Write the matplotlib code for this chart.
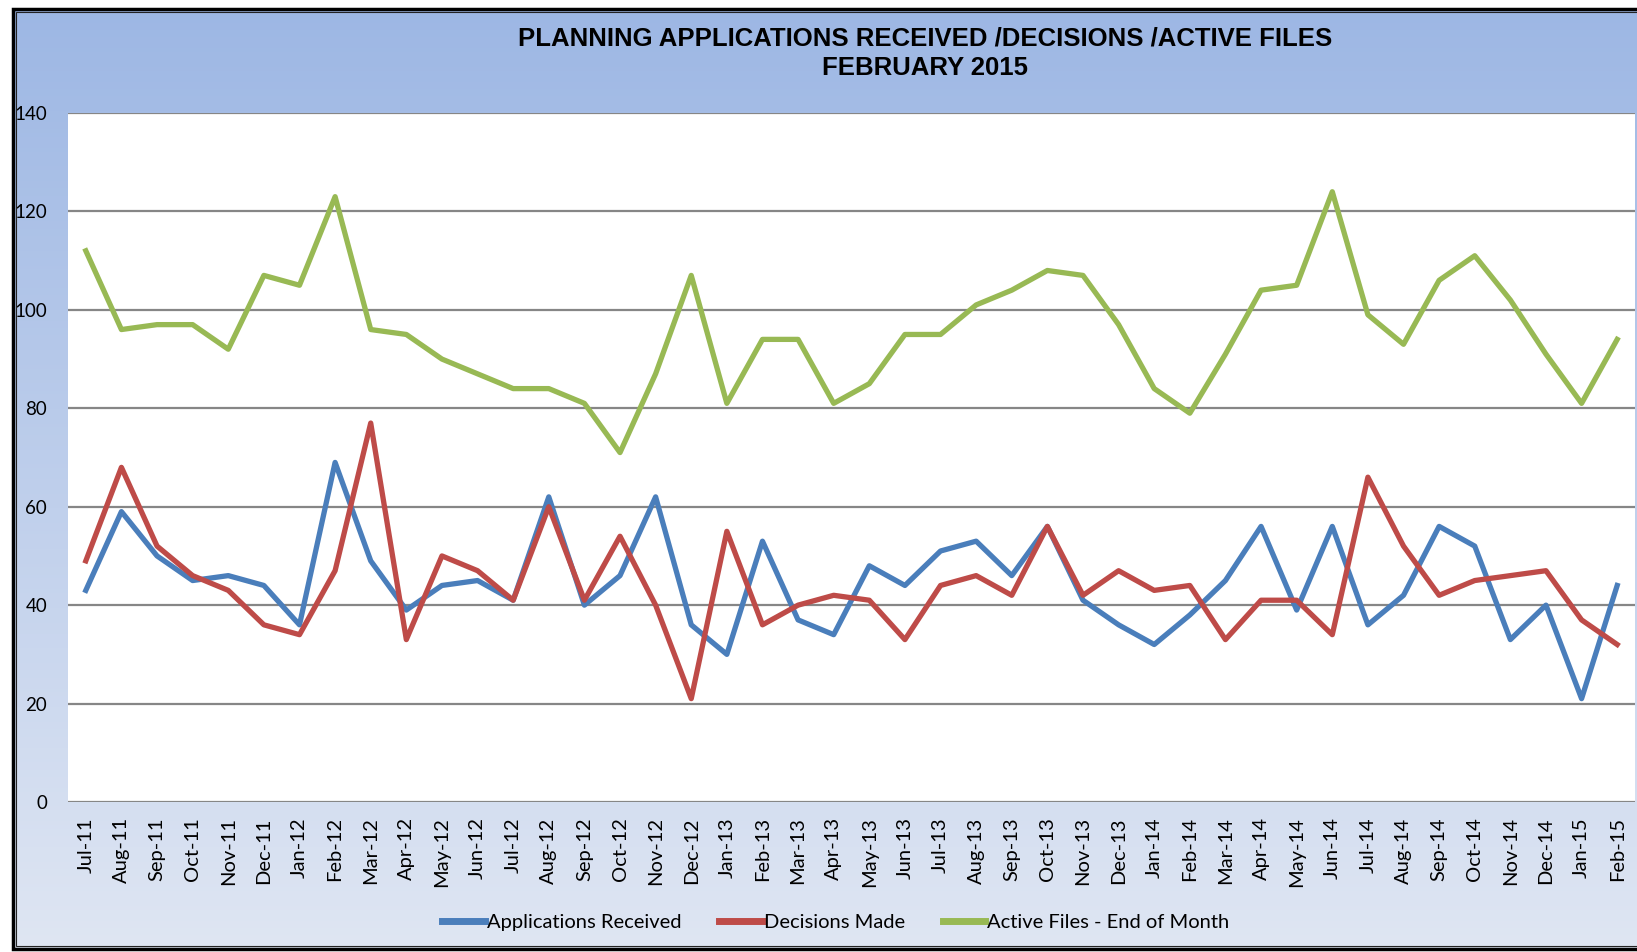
import numpy as np
import matplotlib
matplotlib.use("Agg")
import matplotlib.pyplot as plt
from matplotlib.lines import Line2D

months = ["Jul-11", "Aug-11", "Sep-11", "Oct-11", "Nov-11", "Dec-11",
          "Jan-12", "Feb-12", "Mar-12", "Apr-12", "May-12", "Jun-12",
          "Jul-12", "Aug-12", "Sep-12", "Oct-12", "Nov-12", "Dec-12",
          "Jan-13", "Feb-13", "Mar-13", "Apr-13", "May-13", "Jun-13",
          "Jul-13", "Aug-13", "Sep-13", "Oct-13", "Nov-13", "Dec-13",
          "Jan-14", "Feb-14", "Mar-14", "Apr-14", "May-14", "Jun-14",
          "Jul-14", "Aug-14", "Sep-14", "Oct-14", "Nov-14", "Dec-14",
          "Jan-15", "Feb-15"]

received = [43, 59, 50, 45, 46, 44, 36, 69, 49, 39, 44, 45, 41, 62, 40, 46,
            62, 36, 30, 53, 37, 34, 48, 44, 51, 53, 46, 56, 41, 36, 32, 38,
            45, 56, 39, 56, 36, 42, 56, 52, 33, 40, 21, 44]

decisions = [49, 68, 52, 46, 43, 36, 34, 47, 77, 33, 50, 47, 41, 60, 41, 54,
             40, 21, 55, 36, 40, 42, 41, 33, 44, 46, 42, 56, 42, 47, 43, 44,
             33, 41, 41, 34, 66, 52, 42, 45, 46, 47, 37, 32]

active = [112, 96, 97, 97, 92, 107, 105, 123, 96, 95, 90, 87, 84, 84, 81, 71,
          87, 107, 81, 94, 94, 81, 85, 95, 95, 101, 104, 108, 107, 97, 84, 79,
          91, 104, 105, 124, 99, 93, 106, 111, 102, 91, 81, 94]

W, H = 1637, 952
fig = plt.figure(figsize=(W / 100, H / 100), dpi=100)
fig.patch.set_facecolor("white")

# gradient background inside the frame (runs past the right edge)
bg = fig.add_axes([12 / W, 1 - 950 / H, 1.0, (950 - 8) / H], zorder=0)
top = np.array([157, 183, 228]) / 255
bot = np.array([223, 230, 243]) / 255
t = np.linspace(0, 1, 256)[:, None]
grad = (top[None, :] * (1 - t) + bot[None, :] * t)[:, None, :]
bg.imshow(grad, aspect="auto", extent=[0, 1, 0, 1])
bg.set_axis_off()

# frame: top, left, bottom only (right side is cut off in the original)
def frame(off, lw, col):
    xl = (13 + off) / W
    yt = 1 - (9 + off) / H
    yb = 1 - (949 - off) / H
    fig.add_artist(Line2D([1.2, xl, xl, 1.2], [yt, yt, yb, yb],
                          transform=fig.transFigure, color=col, lw=lw,
                          solid_joinstyle="miter", zorder=5))

frame(0, 2.5, "black")
frame(3, 0.8, "#222222")

ax = fig.add_axes([68 / W, 1 - 802 / H, (1635 - 68) / W, (802 - 113) / H], zorder=2)
ax.set_facecolor("white")

x = np.arange(len(months))
ax.plot(x, received, color="#4A7EBB", lw=3.8, label="Applications Received", zorder=3)
ax.plot(x, decisions, color="#BE4B48", lw=3.8, label="Decisions Made", zorder=3)
ax.plot(x, active, color="#98B954", lw=3.8, label="Active Files - End of Month", zorder=3)

ax.set_xlim(-0.5, len(months) - 0.5)
ax.set_ylim(0, 140)
ax.set_yticks(range(0, 141, 20))
ax.yaxis.grid(True, color="#868686", lw=1.6)
ax.set_axisbelow(True)
for s in ["left", "right", "top", "bottom"]:
    ax.spines[s].set_visible(False)

ax.set_xticks(x)
ax.set_xticklabels(months, rotation=90, fontsize=14.5, family="Lato")
ax.tick_params(axis="x", length=0, pad=11)
ax.tick_params(axis="y", length=0, pad=15, labelsize=13.5)
for lab in ax.get_yticklabels():
    lab.set_family("Lato")

fig.text(925 / W, 1 - 38 / H, "PLANNING APPLICATIONS RECEIVED /DECISIONS /ACTIVE FILES",
         ha="center", va="center", fontsize=18.5, fontweight="bold",
         family="Liberation Sans", zorder=6)
fig.text(925 / W, 1 - 68 / H, "FEBRUARY 2015",
         ha="center", va="center", fontsize=18.5, fontweight="bold",
         family="Liberation Sans", zorder=6)

leg = fig.legend(loc="center", bbox_to_anchor=(836 / W, 1 - 922 / H), ncol=3,
                 frameon=False, prop={"family": "Lato", "size": 14.5},
                 handlelength=2.1, handletextpad=0.1, columnspacing=1.9)
for line in leg.get_lines():
    line.set_linewidth(5)

fig.savefig("out.png", dpi=100)
